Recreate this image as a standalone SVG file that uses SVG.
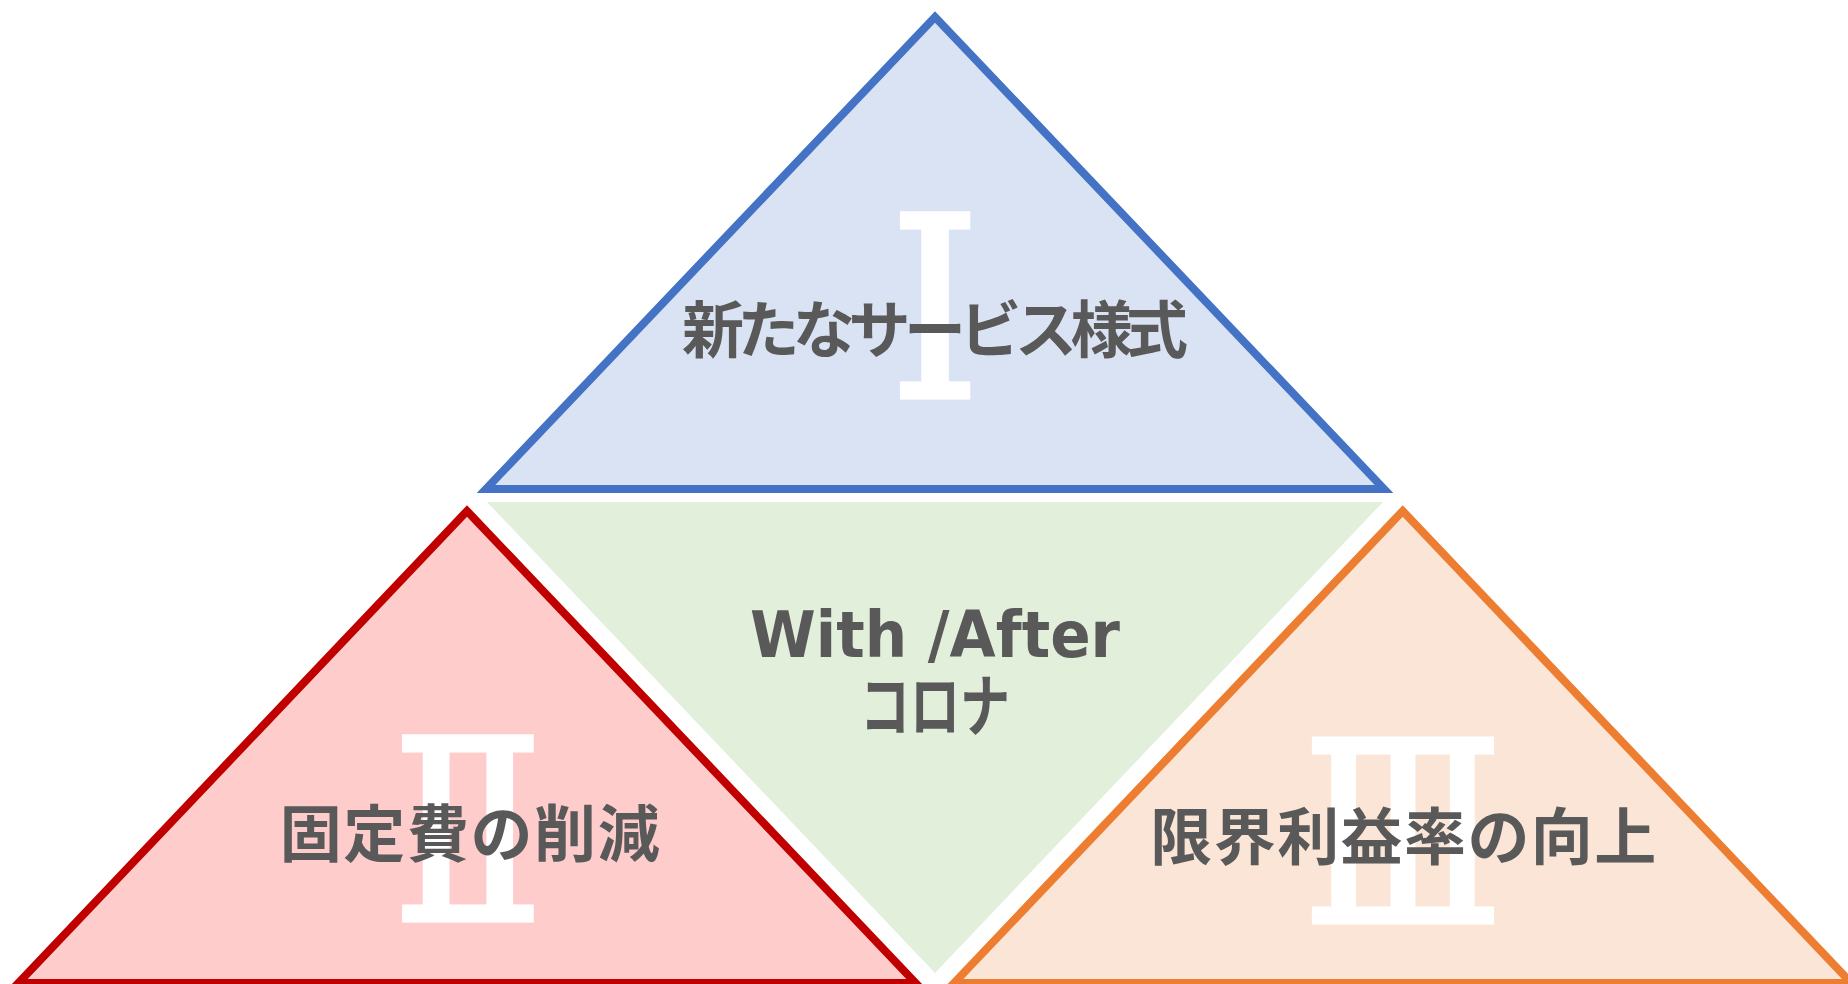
<svg xmlns="http://www.w3.org/2000/svg" width="1848" height="984" viewBox="0 0 1848 984">
<style>
.tri{stroke-width:8;stroke-linejoin:miter;stroke-miterlimit:10}
.num{font-family:"DejaVu Serif",serif;font-size:251px;fill:#ffffff;stroke:#ffffff;stroke-width:5;text-anchor:middle}
.lbl{font-family:"Noto Sans CJK JP","Noto Sans",sans-serif;font-weight:bold;fill:#595959;text-anchor:middle}
.lat{font-family:"DejaVu Sans","Noto Sans CJK JP",sans-serif;font-weight:bold;fill:#595959;text-anchor:middle}
</style>
<rect width="1848" height="984" fill="#ffffff"/>
<g id="node-center">
<polygon points="487,502 1383,502 935,973" fill="#E2EFDA"/>
<text class="lat" x="935" y="656.7" font-size="64" textLength="370" lengthAdjust="spacingAndGlyphs">With /After</text>
<text class="lbl" x="935" y="731" font-size="68" textLength="150" lengthAdjust="spacingAndGlyphs">コロナ</text>
</g>
<g id="node-1">
<polygon class="tri" points="935,17 1384,489 486,489" fill="#DAE3F3" stroke="#4472C4"/>
<text class="num" transform="translate(935,397) scale(0.92,1)" x="0" y="0">Ⅰ</text>
<text class="lbl" x="935" y="353" font-size="62" textLength="506">新たなサービス様式</text>
</g>
<g id="node-2">
<polygon class="tri" points="467,511 915.6,983 18.4,983" fill="#FFCCCC" stroke="#C00000"/>
<text class="num" transform="translate(468,920.3) scale(0.89,1)" x="0" y="0" stroke-width="7">Ⅱ</text>
<text class="lbl" x="469.7" y="856.5" font-size="62" textLength="380">固定費の削減</text>
</g>
<g id="node-3">
<polygon class="tri" points="1402.7,511 1851.3,983 954.1,983" fill="#FBE5D6" stroke="#ED7D31"/>
<text class="num" transform="translate(1403,922) scale(0.83,1)" x="0" y="0" stroke-width="7">Ⅲ</text>
<text class="lbl" x="1403.3" y="860" font-size="62" textLength="506">限界利益率の向上</text>
</g>
</svg>
